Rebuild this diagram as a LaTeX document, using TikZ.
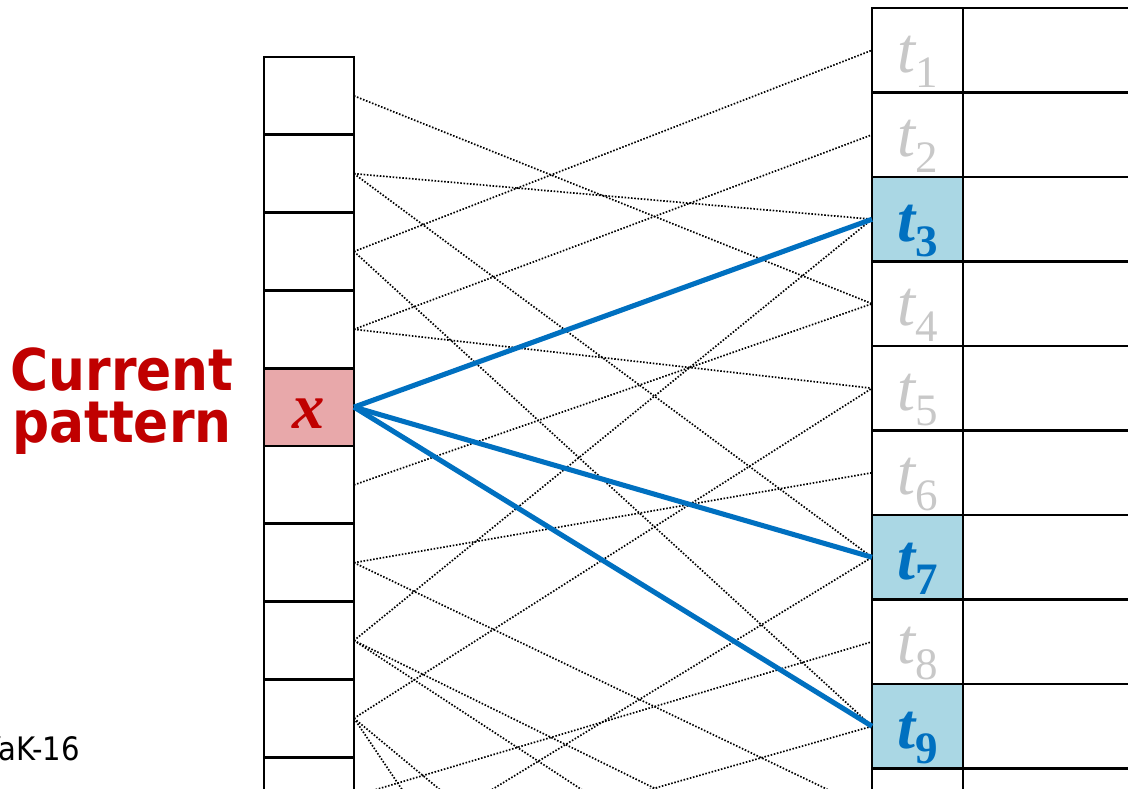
\documentclass[tikz,border=0pt]{standalone}
\usepackage{fontspec}
\setmainfont{Liberation Serif}
\newfontfamily\etiqfont{DejaVu Sans Condensed}
\usepackage{xcolor}
\definecolor{rojot}{HTML}{C00000}
\definecolor{azulsel}{HTML}{0070C0}
\definecolor{celeste}{RGB}{170,215,228}
\definecolor{rosa}{RGB}{232,168,170}
\definecolor{grisl}{RGB}{200,200,200}
\newcommand{\tgris}[1]{\textcolor{grisl}{\fontsize{46}{46}\selectfont\itshape t\raisebox{-11pt}{\fontsize{32}{32}\selectfont\upshape #1}}}
\newcommand{\tazul}[1]{\textcolor{azulsel}{\fontsize{46}{46}\selectfont\bfseries\itshape t\raisebox{-11pt}{\fontsize{32}{32}\selectfont\upshape #1}}}
\tikzset{
  celda/.style={rectangle, draw, line width=2pt, minimum width=2.25cm, minimum height=1.945cm,
                inner sep=0pt, outer sep=0pt},
  tcelda/.style={celda, minimum width=2.275cm, minimum height=2.1125cm,
                 text height=1.2cm, text depth=0.1cm},
  rcelda/.style={tcelda, minimum width=6cm, anchor=west},
  actual/.style={celda, fill=rosa, font=\fontsize{46}{46}\selectfont\bfseries\itshape, text=rojot,
                 text height=1.15cm, text depth=0.1cm},
  elegida/.style={tcelda, fill=celeste},
  punteo/.style={line width=1.2pt, dash pattern=on 1.1pt off 1.2pt},
  enlace/.style={line width=3.6pt, azulsel},
  patron/.style={font=\etiqfont\bfseries\fontsize{41}{37}\selectfont, text=rojot, align=center, inner sep=0pt},
  pie/.style={font=\etiqfont\fontsize{23}{23}\selectfont, inner sep=0pt}
}
\begin{document}
\begin{tikzpicture}
\useasboundingbox (0,0) rectangle (28.2,-19.725);
\fill[white] (0,0) rectangle (28.2,-19.725);
\clip (0,0) rectangle (28.2,-19.725);

% memoria de patrones
\node[celda] (c1) at (7.725,-2.3975) {};
\node[celda] (c2) at (7.725,-4.3425) {};
\node[celda] (c3) at (7.725,-6.2875) {};
\node[celda] (c4) at (7.725,-8.2325) {};
\node[actual] (c5) at (7.725,-10.1775) {x};
\node[celda] (c6) at (7.725,-12.1225) {};
\node[celda] (c7) at (7.725,-14.0675) {};
\node[celda] (c8) at (7.725,-16.0125) {};
\node[celda] (c9) at (7.725,-17.9575) {};
\node[celda] (c10) at (7.725,-19.9025) {};
\coordinate (c11) at (8.85,-21.8475);

% tabla de destinos
\node[tcelda] (t1) at (22.9375,-1.256) {\tgris{1}};
\node[tcelda] (t2) at (22.9375,-3.369) {\tgris{2}};
\node[elegida] (t3) at (22.9375,-5.481) {\tazul{3}};
\node[tcelda] (t4) at (22.9375,-7.594) {\tgris{4}};
\node[tcelda] (t5) at (22.9375,-9.706) {\tgris{5}};
\node[tcelda] (t6) at (22.9375,-11.819) {\tgris{6}};
\node[elegida] (t7) at (22.9375,-13.931) {\tazul{7}};
\node[tcelda] (t8) at (22.9375,-16.044) {\tgris{8}};
\node[elegida] (t9) at (22.9375,-18.156) {\tazul{9}};
\node[tcelda] (t10) at (22.9375,-20.269) {};
\coordinate (t11) at (21.8,-22.381);
\coordinate (t12) at (21.8,-24.494);
\coordinate (t14) at (21.8,-28.719);
\coordinate (t18) at (21.8,-37.169);

\node[rcelda] (r1) at (t1.east) {};
\node[rcelda] (r2) at (t2.east) {};
\node[rcelda] (r3) at (t3.east) {};
\node[rcelda] (r4) at (t4.east) {};
\node[rcelda] (r5) at (t5.east) {};
\node[rcelda] (r6) at (t6.east) {};
\node[rcelda] (r7) at (t7.east) {};
\node[rcelda] (r8) at (t8.east) {};
\node[rcelda] (r9) at (t9.east) {};
\node[rcelda] (r10) at (t10.east) {};

\node[patron] (cur) at (3.05,-10.03) {Current\\pattern};
\node[pie, anchor=base east] (vak) at (2.0,-19.0) {VaK-16};

% conexiones
\draw[punteo] (c1.east) -- (t4.west);
\draw[punteo] (c2.east) -- (t3.west);
\draw[punteo] (c2.east) -- (t7.west);
\draw[punteo] (c3.east) -- (t1.west);
\draw[punteo] (c3.east) -- (t9.west);
\draw[punteo] (c4.east) -- (t2.west);
\draw[punteo] (c4.east) -- (t5.west);
\draw[punteo] (c6.east) -- (t4.west);
\draw[punteo] (c7.east) -- (t6.west);
\draw[punteo] (c7.east) -- (t10.west);
\draw[punteo] (c8.east) -- (t3.west);
\draw[punteo] (c8.east) -- (t11);
\draw[punteo] (c8.east) -- (t12);
\draw[punteo] (c9.east) -- (t5.west);
\draw[punteo] (c9.east) -- (t14);
\draw[punteo] (c9.east) -- (t18);
\draw[punteo] (c10.east) -- (t8.west);
\draw[punteo] (c11) -- (t7.west);
\draw[punteo] (c11) -- (t9.west);

\draw[enlace] (c5.east) -- (t3.west);
\draw[enlace] (c5.east) -- (t7.west);
\draw[enlace] (c5.east) -- (t9.west);
\end{tikzpicture}
\end{document}
